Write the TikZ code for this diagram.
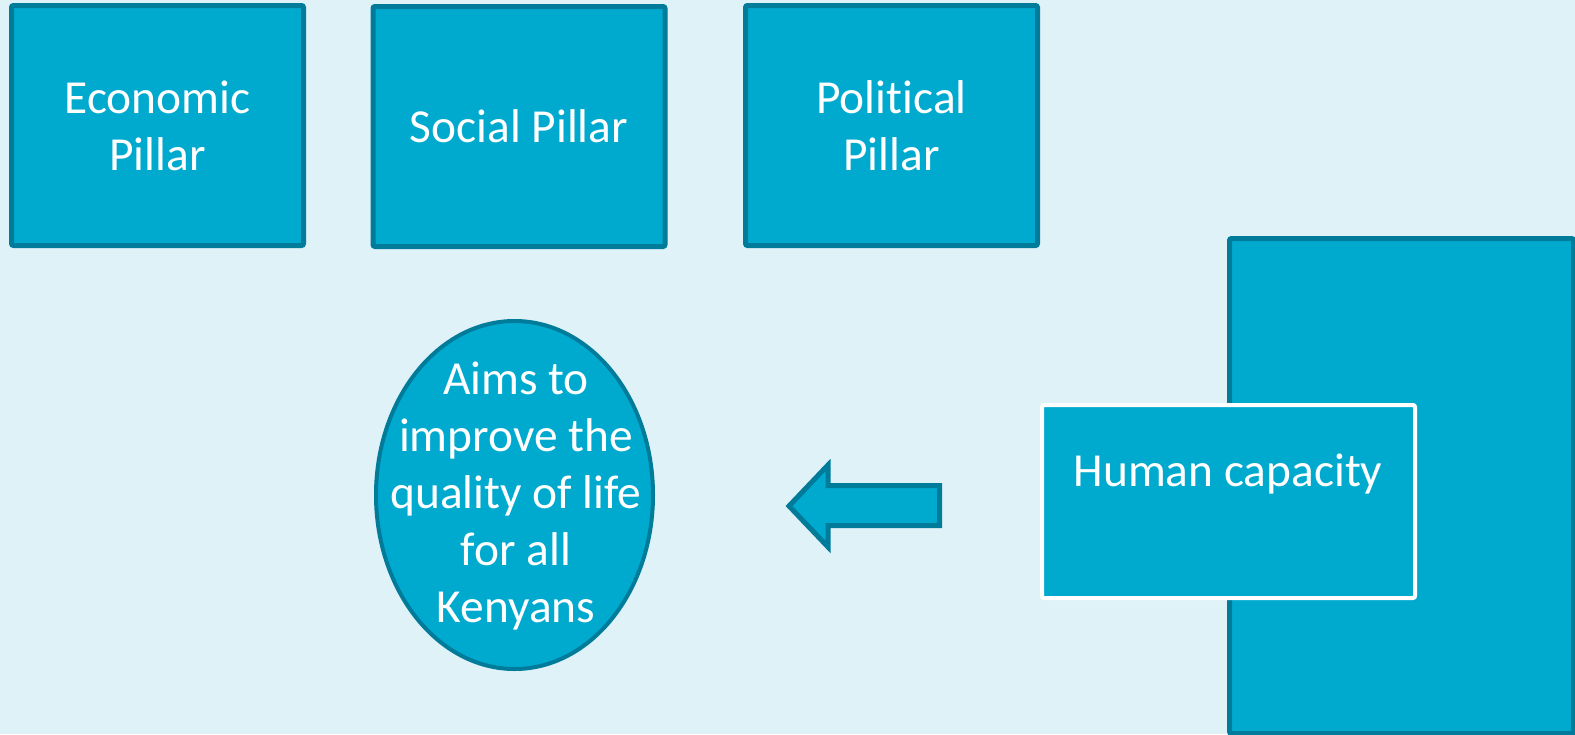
\documentclass[tikz,border=0pt]{standalone}
\usepackage{fontspec}
\setmainfont{Carlito}[Ligatures=NoCommon]
\usetikzlibrary{shapes.geometric}
\definecolor{bgblue}{HTML}{DEF2F8}
\definecolor{boxfill}{HTML}{00AACF}
\definecolor{boxline}{HTML}{007B99}
\tikzset{
  pillar/.style={rectangle, draw=boxline, fill=boxfill, line width=2.5pt,
    rounded corners=1pt, minimum width=146pt, minimum height=120pt,
    inner sep=0pt, text=white, align=center,
    font=\fontsize{23.7pt}{28.5pt}\selectfont},
  whitetext/.style={text=white, align=center, inner sep=0pt,
    font=\fontsize{23.7pt}{28.5pt}\selectfont},
}
\begin{document}
\begin{tikzpicture}[x=0.5pt, y=-0.5pt]
  % canvas
  \fill[bgblue] (0,0) rectangle (1575,734);
  \useasboundingbox (0,0) rectangle (1575,734);

  % three pillars
  \node[pillar] (econ) at (157.5,125.5) {Economic\\Pillar};
  \node[pillar] (social) at (519,126.5) {Social Pillar};
  \node[pillar] (polit) at (891.5,125.5) {Political\\Pillar};

  % tall block on the right
  \node[pillar, minimum width=172pt, minimum height=247.5pt] (tall) at (1401.5,486) {};

  % human capacity box over it
  \node[pillar, draw=white, line width=2pt, minimum width=186.5pt, minimum height=96.5pt]
    (human) at (1228.5,501.5) {};
  \node[whitetext] (humantxt) at (1228,474) {Human capacity};

  % goal ellipse
  \node[ellipse, draw=boxline, fill=boxfill, line width=2pt,
    minimum width=138.5pt, minimum height=174pt, inner sep=0pt] (goal) at (514.5,495) {};
  \node[whitetext] (goaltxt) at (516,496) {Aims to\\improve the\\quality of life\\for all\\Kenyans};

  % block arrow pointing left
  \draw[draw=boxline, fill=boxfill, line width=2.5pt, line join=miter]
    (789,506) -- (828,465) -- (828,485.5) -- (939.5,485.5) -- (939.5,525.5)
    -- (828,525.5) -- (828,547) -- cycle;
\end{tikzpicture}
\end{document}
